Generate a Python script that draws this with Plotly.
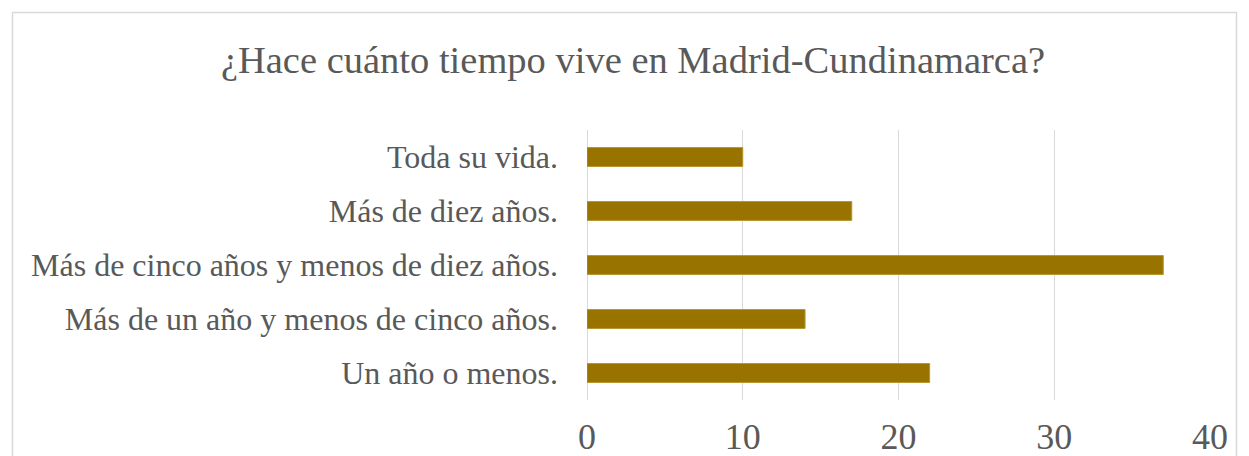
import plotly.graph_objects as go

categories = ["Un año o menos.", "Más de un año y menos de cinco años.",
              "Más de cinco años y menos de diez años.", "Más de diez años.", "Toda su vida."]
values = [22, 14, 37, 17, 10]
tick_vals = [0, 10, 20, 30, 40]
title_text = "¿Hace cuánto tiempo vive en Madrid-Cundinamarca?"

W, H = 1249, 456
L, R, T, B = 587, 39, 130, 56
pw, ph = W - L - R, H - T - B

def px_x(p):
    return (p - L) / pw

def px_y(p):
    return (H - B - p) / ph

fig = go.Figure(go.Bar(
    x=values, y=categories, orientation="h",
    marker=dict(color="#997300", line=dict(color="#B8962E", width=1)),
    width=0.35,
))

font = "Liberation Serif, Times New Roman, serif"
fig.update_layout(
    width=W, height=H,
    margin=dict(l=L, r=R, t=T, b=B, autoexpand=False),
    paper_bgcolor="white", plot_bgcolor="white",
    showlegend=False,
    title=dict(text=title_text, x=633 / W, xanchor="center", y=1 - 60 / H, yanchor="middle",
               font=dict(family=font, size=38.5, color="#595959")),
    xaxis=dict(range=[0, 40], tickvals=tick_vals, showgrid=True, gridcolor="#D9D9D9", gridwidth=1,
               zeroline=True, zerolinecolor="#D9D9D9", zerolinewidth=1,
               showline=False, ticks="", automargin=False,
               tickfont=dict(family=font, size=36, color="#595959"), ticklabelstandoff=12),
    yaxis=dict(showgrid=False, zeroline=False, showline=False, ticks="", automargin=False,
               tickfont=dict(family=font, size=32, color="#595959"), ticklabelstandoff=28),
    shapes=[dict(type="rect", xref="paper", yref="paper",
                 x0=px_x(12.5), x1=px_x(1236.5), y0=px_y(480), y1=px_y(12.5),
                 line=dict(color="#D9D9D9", width=1.5), fillcolor="rgba(0,0,0,0)", layer="below")],
)

fig.write_html("out.html", config={"displayModeBar": False},
               post_script="document.body.style.margin='0';document.body.style.overflow='hidden';")
